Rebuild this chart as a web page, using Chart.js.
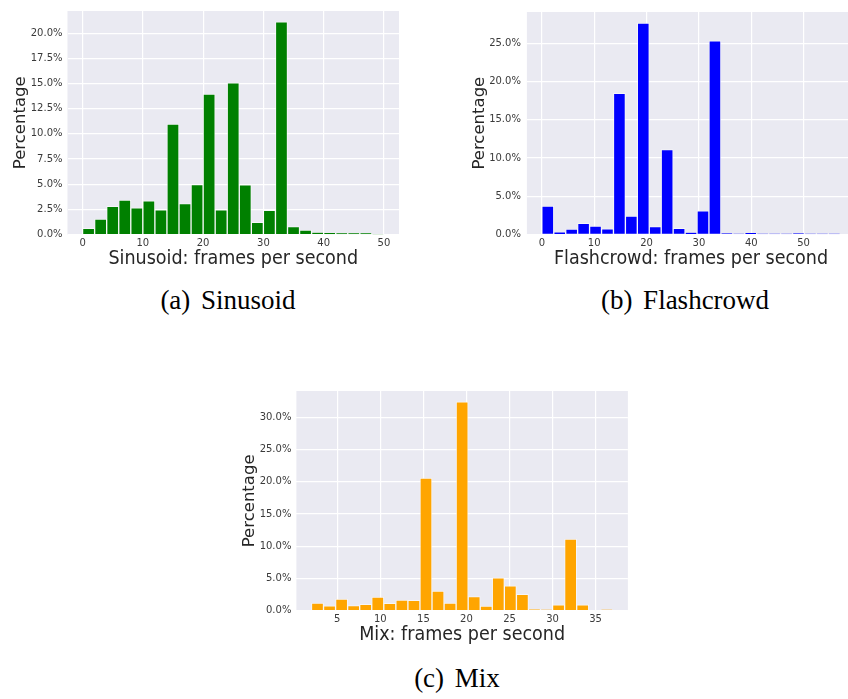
<!DOCTYPE html>
<html>
<head>
<meta charset="utf-8">
<script src="https://cdn.jsdelivr.net/npm/chart.js@4.4.1/dist/chart.umd.min.js"></script>
<style>
  html, body { margin: 0; padding: 0; background: #fff; overflow: hidden; }
  body { width: 848px; height: 699px; position: relative; }
  .panel { position: absolute; }
  .caption {
    position: absolute; width: 300px; text-align: center;
    font-family: 'Liberation Serif', serif; font-size: 27px; line-height: 27px;
    word-spacing: 4px; color: #000;
  }
</style>
</head>
<body>
<div class="panel" style="left:0;top:0"><canvas id="sinusoid" width="400" height="270"></canvas></div>
<div class="panel" style="left:430px;top:0"><canvas id="flashcrowd" width="430" height="270"></canvas></div>
<div class="panel" style="left:230px;top:380px"><canvas id="mix" width="400" height="266"></canvas></div>
<div class="caption" style="left:78px;top:287px">(a) Sinusoid</div>
<div class="caption" style="left:535px;top:287px">(b) Flashcrowd</div>
<div class="caption" style="left:307px;top:665px">(c) Mix</div>
<script>
// bin edges (fps) and share of samples per bin (%)
const sinusoidEdges = [0, 2, 4, 6, 8, 10, 12, 14, 16, 18, 20, 22, 24, 26, 28, 30, 32, 34, 36, 38, 40, 42, 44, 46, 48, 50];
const sinusoidPercent = [0.62, 1.52, 2.8, 3.42, 2.66, 3.35, 2.44, 10.97, 3.08, 4.97, 13.95, 2.44, 15.06, 4.93, 1.2, 2.4,
  21.13, 0.78, 0.45, 0.2, 0.15, 0.12, 0.12, 0.12, 0.03];
const sinusoidXTicks = [0, 10, 20, 30, 40, 50];
const sinusoidYTicks = [0, 2.5, 5, 7.5, 10, 12.5, 15, 17.5, 20];

const flashcrowdEdges = [0, 2.28, 4.56, 6.84, 9.12, 11.4, 13.68, 15.96, 18.24, 20.52, 22.8, 25.08, 27.36, 29.64, 31.92,
  34.2, 36.48, 38.76, 41.04, 43.32, 45.6, 47.88, 50.16, 52.44, 54.72, 57];
const flashcrowdPercent = [3.7, 0.3, 0.68, 1.45, 1.06, 0.72, 18.45, 2.38, 27.64, 1.02, 11.1, 0.77, 0.21, 3.06, 25.34,
  0.12, 0.04, 0.15, 0.02, 0.02, 0.02, 0.12, 0.02, 0.02, 0.02];
const flashcrowdXTicks = [0, 10, 20, 30, 40, 50];
const flashcrowdYTicks = [0, 5, 10, 15, 20, 25];

const mixEdges = [2, 3.4, 4.8, 6.2, 7.6, 9, 10.4, 11.8, 13.2, 14.6, 16, 17.4, 18.8, 20.2, 21.6, 23, 24.4, 25.8, 27.2,
  28.6, 30, 31.4, 32.8, 34.2, 35.6, 37];
const mixPercent = [1.2, 0.75, 1.8, 0.8, 1.0, 2.1, 1.15, 1.65, 1.6, 20.6, 3.05, 1.2, 32.4, 2.2, 0.7, 5.1, 3.85, 2.55,
  0.2, 0.15, 0.9, 11.1, 0.9, 0, 0.15];
const mixXTicks = [5, 10, 15, 20, 25, 30, 35];
const mixYTicks = [0, 5, 10, 15, 20, 25, 30];

const couleurs = {
  sinusoid: '#008000',
  flashcrowd: '#0000ff',
  mix: '#ffa500',
  fond: '#eaeaf2',
  grille: '#ffffff',
  bordBarre: 'rgba(255, 255, 255, 0.55)',
  texte: '#262626',
  graduation: '#3a3a3a',
};

const points = (edges, values) => values.map((y, i) => ({ x: (edges[i] + edges[i + 1]) / 2, y }));

const fondPanneau = {
  id: 'fondPanneau',
  beforeDraw: (chart) => {
    const { ctx, chartArea } = chart;
    ctx.save();
    ctx.fillStyle = couleurs.fond;
    ctx.fillRect(chartArea.left, chartArea.top, chartArea.width, chartArea.height);
    ctx.restore();
  },
};

const policeGraduation = { family: 'DejaVu Sans', size: 10 };

const histogramme = (id, cadre, serie) => new Chart(document.getElementById(id), {
  type: 'bar',
  data: {
    datasets: [{
      data: points(serie.edges, serie.values),
      backgroundColor: serie.couleur,
      borderColor: couleurs.bordBarre,
      borderWidth: 1,
      barPercentage: 1,
      categoryPercentage: 1,
    }],
  },
  options: {
    responsive: false,
    animation: false,
    events: [],
    layout: { padding: { top: cadre.haut, right: cadre.droite, left: 0, bottom: 0 } },
    plugins: { legend: { display: false }, tooltip: { enabled: false } },
    scales: {
      x: {
        type: 'linear',
        offset: false,
        min: serie.xMin,
        max: serie.xMax,
        afterBuildTicks: (scale) => { scale.ticks = serie.xTicks.map((value) => ({ value })); },
        afterFit: (scale) => { scale.height = cadre.hauteurAxeX; },
        grid: { color: couleurs.grille, lineWidth: 1.2, drawTicks: false, offset: false },
        border: { display: false },
        ticks: {
          padding: 3, autoSkip: false, maxRotation: 0, color: couleurs.graduation, font: policeGraduation,
          callback: (v) => String(v),
        },
        title: {
          display: true,
          text: serie.titreX,
          color: couleurs.texte,
          font: { family: 'DejaVu Sans Condensed', size: 19.5, lineHeight: 1 },
          padding: { top: 0, bottom: 1.6 },
        },
      },
      y: {
        min: 0,
        max: serie.yMax,
        afterBuildTicks: (scale) => { scale.ticks = serie.yTicks.map((value) => ({ value })); },
        afterFit: (scale) => { scale.width = cadre.largeurAxeY; },
        grid: { color: couleurs.grille, lineWidth: 1.2, drawTicks: false },
        border: { display: false },
        ticks: {
          padding: cadre.margeGraduationY, color: couleurs.graduation, font: policeGraduation,
          callback: (v) => `${v.toFixed(1)}%`,
        },
        title: {
          display: true,
          text: 'Percentage',
          color: couleurs.texte,
          font: { family: 'DejaVu Sans', size: 16.5, lineHeight: 1 },
          padding: { top: cadre.margeTitreY, bottom: 0 },
        },
      },
    },
  },
  plugins: [fondPanneau],
});

histogramme('sinusoid',
  { haut: 7, droite: 1, largeurAxeY: 67.5, hauteurAxeX: 35.5, margeGraduationY: 5, margeTitreY: 12 },
  {
    edges: sinusoidEdges, values: sinusoidPercent, couleur: couleurs.sinusoid,
    xMin: -2.5, xMax: 52.5, yMax: 22.2, xTicks: sinusoidXTicks, yTicks: sinusoidYTicks,
    titreX: 'Sinusoid: frames per second',
  });

histogramme('flashcrowd',
  { haut: 7, droite: 4.8, largeurAxeY: 96.9, hauteurAxeX: 35.7, margeGraduationY: 6, margeTitreY: 41 },
  {
    edges: flashcrowdEdges, values: flashcrowdPercent, couleur: couleurs.flashcrowd,
    xMin: -2.85, xMax: 59.85, yMax: 29.1, xTicks: flashcrowdXTicks, yTicks: flashcrowdYTicks,
    titreX: 'Flashcrowd: frames per second',
  });

histogramme('mix',
  { haut: 3, droite: 2.1, largeurAxeY: 66.4, hauteurAxeX: 35.3, margeGraduationY: 5, margeTitreY: 11 },
  {
    edges: mixEdges, values: mixPercent, couleur: couleurs.mix,
    xMin: 0.25, xMax: 38.75, yMax: 34.1, xTicks: mixXTicks, yTicks: mixYTicks,
    titreX: 'Mix: frames per second',
  });
</script>
</body>
</html>
